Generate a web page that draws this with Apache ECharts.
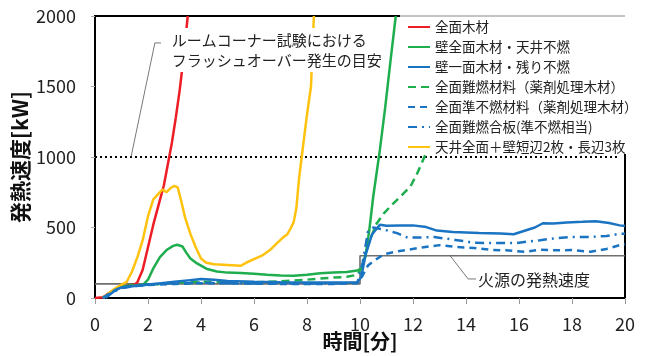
<!DOCTYPE html>
<html><head><meta charset="utf-8">
<script src="https://cdn.jsdelivr.net/npm/echarts@6/dist/echarts.min.js"></script>
<style>html,body{margin:0;padding:0;background:#fff}#c{width:646px;height:356px}</style>
</head><body><div id="c"></div>
<script>
const xTicks = [0,2,4,6,8,10,12,14,16,18,20];
const yTicks = [0,500,1000,1500,2000];
const seriesNames = ['全面木材','壁全面木材・天井不燃','壁一面木材・残り不燃','全面難燃材料（薬剤処理木材）','全面準不燃材料（薬剤処理木材）','全面難燃合板(準不燃相当)','天井全面＋壁短辺2枚・長辺3枚'];
// [時間(分), 発熱速度(kW)]
const zenmenMokuzai = [[0,0],[0.3,5],[0.6,45],[1.0,82],[1.3,90],[1.5,95],[1.6,112],[1.8,200],[2.0,360],[2.2,520],[2.4,660],[2.6,800],[2.75,950],[2.9,1100],[3.05,1280],[3.2,1480],[3.35,1720],[3.5,2000]];
const kabeZenmen = [[0.3,0],[0.5,25],[0.7,55],[1.0,80],[1.3,88],[1.6,90],[1.8,92],[2.0,130],[2.2,210],[2.45,290],[2.7,340],[2.95,370],[3.1,378],[3.3,365],[3.45,320],[3.6,280],[3.85,245],[4.2,208],[4.6,188],[5.0,180],[5.5,177],[6.0,172],[6.5,165],[7.0,160],[7.5,157],[8.0,165],[8.5,175],[9.0,180],[9.5,185],[9.9,195],[10.05,210],[10.2,290],[10.35,480],[10.5,720],[10.75,1050],[10.95,1350],[11.15,1680],[11.35,2000]];
const kabeIchimen = [[0.4,0],[0.6,30],[0.8,60],[1.0,75],[1.5,85],[2.0,95],[2.5,105],[3.0,115],[3.5,125],[4.0,135],[4.5,130],[5.0,120],[6.0,115],[7.0,112],[8.0,110],[9.0,110],[9.9,110],[10.05,150],[10.2,300],[10.45,450],[10.75,520],[11.0,512],[11.5,515],[12.0,515],[12.5,503],[12.9,478],[13.5,468],[14.5,461],[15.3,457],[15.8,452],[16.3,482],[16.6,500],[16.9,530],[17.3,528],[17.8,535],[18.4,540],[18.9,545],[19.4,532],[19.8,515],[20,510]];
const nannenZairyo = [[0.3,0],[0.6,40],[1.0,80],[1.5,90],[2.0,95],[2.5,100],[3.0,110],[4.0,115],[5.0,115],[6.0,112],[7.0,118],[8.0,130],[8.5,138],[9.0,145],[9.5,150],[9.9,165],[10.1,230],[10.3,370],[10.6,520],[10.9,600],[11.2,660],[11.5,715],[11.9,790],[12.15,880],[12.5,1030]];
const junFunen = [[0.3,0],[0.6,40],[1.0,75],[1.5,85],[2.0,92],[3.0,100],[4.0,105],[5.0,105],[6.0,102],[7.0,100],[8.0,100],[9.0,100],[9.9,105],[10.1,160],[10.3,230],[10.5,260],[10.9,310],[11.4,330],[11.8,342],[12.4,360],[13.0,375],[13.6,362],[14.3,355],[14.9,342],[15.5,338],[16.2,328],[16.8,342],[17.4,338],[18.0,340],[18.7,328],[19.3,348],[19.8,375],[20,380]];
const nannenGouban = [[0.3,0],[0.6,35],[1.0,70],[1.5,85],[2.0,95],[3.0,105],[4.0,108],[5.0,105],[6.0,103],[7.0,102],[8.0,102],[9.0,103],[9.9,108],[10.1,250],[10.3,470],[10.5,500],[10.9,485],[11.4,460],[11.8,428],[12.4,430],[12.8,432],[13.6,412],[14.3,392],[14.9,390],[15.9,390],[16.8,410],[17.4,425],[18.0,433],[18.7,433],[19.3,440],[19.8,455],[20,455]];
const tenjouZenmen = [[0.3,0],[0.5,30],[0.7,60],[1.0,95],[1.2,115],[1.4,190],[1.6,290],[1.8,410],[2.0,580],[2.2,700],[2.4,740],[2.55,770],[2.7,750],[2.85,780],[3.0,795],[3.12,785],[3.25,690],[3.4,570],[3.6,455],[3.8,360],[4.0,280],[4.2,250],[4.5,240],[5.0,234],[5.5,228],[5.7,250],[6.0,275],[6.3,300],[6.6,340],[6.9,395],[7.1,430],[7.25,450],[7.4,500],[7.5,540],[7.6,640],[7.7,850],[7.8,1000],[8.0,1300],[8.15,1500],[8.26,2000]];
// 火源の発熱速度 (kW)
const kagen = [[0,100],[10,100],[10,300],[20,300]];
// フラッシュオーバー発生の目安 (kW)
const flashover = [[0,1000],[19.8,1000]];
const note1 = ['ルームコーナー試験における','フラッシュオーバー発生の目安'];
const note2 = '火源の発熱速度';
const leader1 = [[2.49,1809],[2.26,1809],[1.36,1000]];
const leader2 = [[13.4,300],[14.08,135],[14.38,135]];

const FONT = '"Noto Sans CJK JP", "Noto Sans", sans-serif';
const RED='#ee1c25', GREEN='#1fae4e', BLUE='#1a74c2', YELLOW='#ffc20e';
const chart = echarts.init(document.getElementById('c'), null, {renderer:'canvas'});
function ln(name, data, color, type, z){
  return {name, type:'line', data, symbol:'none', showSymbol:false, z:z||2,
    lineStyle:{color, width:2.5, type:type||'solid'}, itemStyle:{color}, animation:false};
}
function helper(data, color, width, type){
  return {type:'line', data, symbol:'none', silent:true, z:1,
    lineStyle:{color, width, type:type||'solid'}, animation:false, legendHoverLink:false};
}
chart.setOption({
  animation:false,
  textStyle:{fontFamily:FONT},
  grid:{left:95, right:21, top:16, bottom:58, show:true, borderColor:'#000', borderWidth:2, backgroundColor:'transparent',
    containLabel:false, outerBoundsMode:'none'},
  xAxis:{type:'value', min:0, max:20, interval:2,
    name:'時間[分]', nameLocation:'middle', nameGap:33, nameMoveOverlap:false,
    nameTextStyle:{fontSize:20, fontWeight:'bold', color:'#111', fontFamily:FONT},
    axisLine:{lineStyle:{color:'#000', width:2}},
    axisTick:{show:true, length:6, lineStyle:{color:'#999'}},
    axisLabel:{fontSize:18, color:'#222', margin:17, fontFamily:FONT, formatter:v=>xTicks.includes(v)?String(v):''},
    splitLine:{show:false}},
  yAxis:{type:'value', min:0, max:2000, interval:500,
    name:'発熱速度[kW]', nameLocation:'middle', nameGap:64, nameRotate:90, nameMoveOverlap:false,
    nameTextStyle:{fontSize:21, fontWeight:'bold', color:'#111', fontFamily:FONT},
    axisLine:{show:true, lineStyle:{color:'#000', width:2}},
    axisTick:{show:true, length:4, lineStyle:{color:'#aaa'}},
    axisLabel:{fontSize:18, color:'#222', margin:19, fontFamily:FONT, formatter:v=>yTicks.includes(v)?String(v):''},
    splitLine:{show:false}},
  legend:{orient:'vertical', left:400, top:14, padding:[6,4,0,7], itemGap:6, itemWidth:22, itemHeight:14,
    backgroundColor:'#fff', data:seriesNames, z:50,
    itemStyle:{opacity:0},
    textStyle:{fontSize:13.5, color:'#222', fontFamily:FONT, lineHeight:14}},
  series:[
    helper(kagen, '#6f6f6f', 1.6),
    helper(flashover, '#000', 2.2, [2,3]),
    helper(leader1, '#555', 0.8),
    helper(leader2, '#555', 0.8),
    ln(seriesNames[0], zenmenMokuzai, RED),
    ln(seriesNames[1], kabeZenmen, GREEN),
    ln(seriesNames[3], nannenZairyo, GREEN, [8,5]),
    ln(seriesNames[6], tenjouZenmen, YELLOW),
    ln(seriesNames[2], kabeIchimen, BLUE, 'solid', 3),
    ln(seriesNames[4], junFunen, BLUE, [7,5], 3),
    ln(seriesNames[5], nannenGouban, BLUE, [9,5,2,5], 3)
  ]
});
const p1 = chart.convertToPixel({gridIndex:0}, [2.9, 1900]);
const p2 = chart.convertToPixel({gridIndex:0}, [14.45, 128]);
const pTopL = chart.convertToPixel({gridIndex:0}, [(400-95)/26.5, 2000]);
const pTopR = chart.convertToPixel({gridIndex:0}, [20, 2000]);
chart.setOption({graphic:[
  {type:'text', left:p1[0]-4, top:p1[1]-2, z:100, silent:true,
    style:{text:note1.join('\n'), fontSize:15, lineHeight:20, fill:'#222', fontFamily:FONT,
      backgroundColor:'#fff', padding:[2,4,2,4]}},
  {type:'text', left:p2[0], top:p2[1]-10, z:100, silent:true,
    style:{text:note2, fontSize:16, lineHeight:20, fill:'#222', fontFamily:FONT}},
  {type:'line', z:120, silent:true, shape:{x1:pTopL[0], y1:pTopL[1], x2:pTopR[0], y2:pTopR[1]},
    style:{stroke:'#888', lineWidth:1}}
]});
</script></body></html>
